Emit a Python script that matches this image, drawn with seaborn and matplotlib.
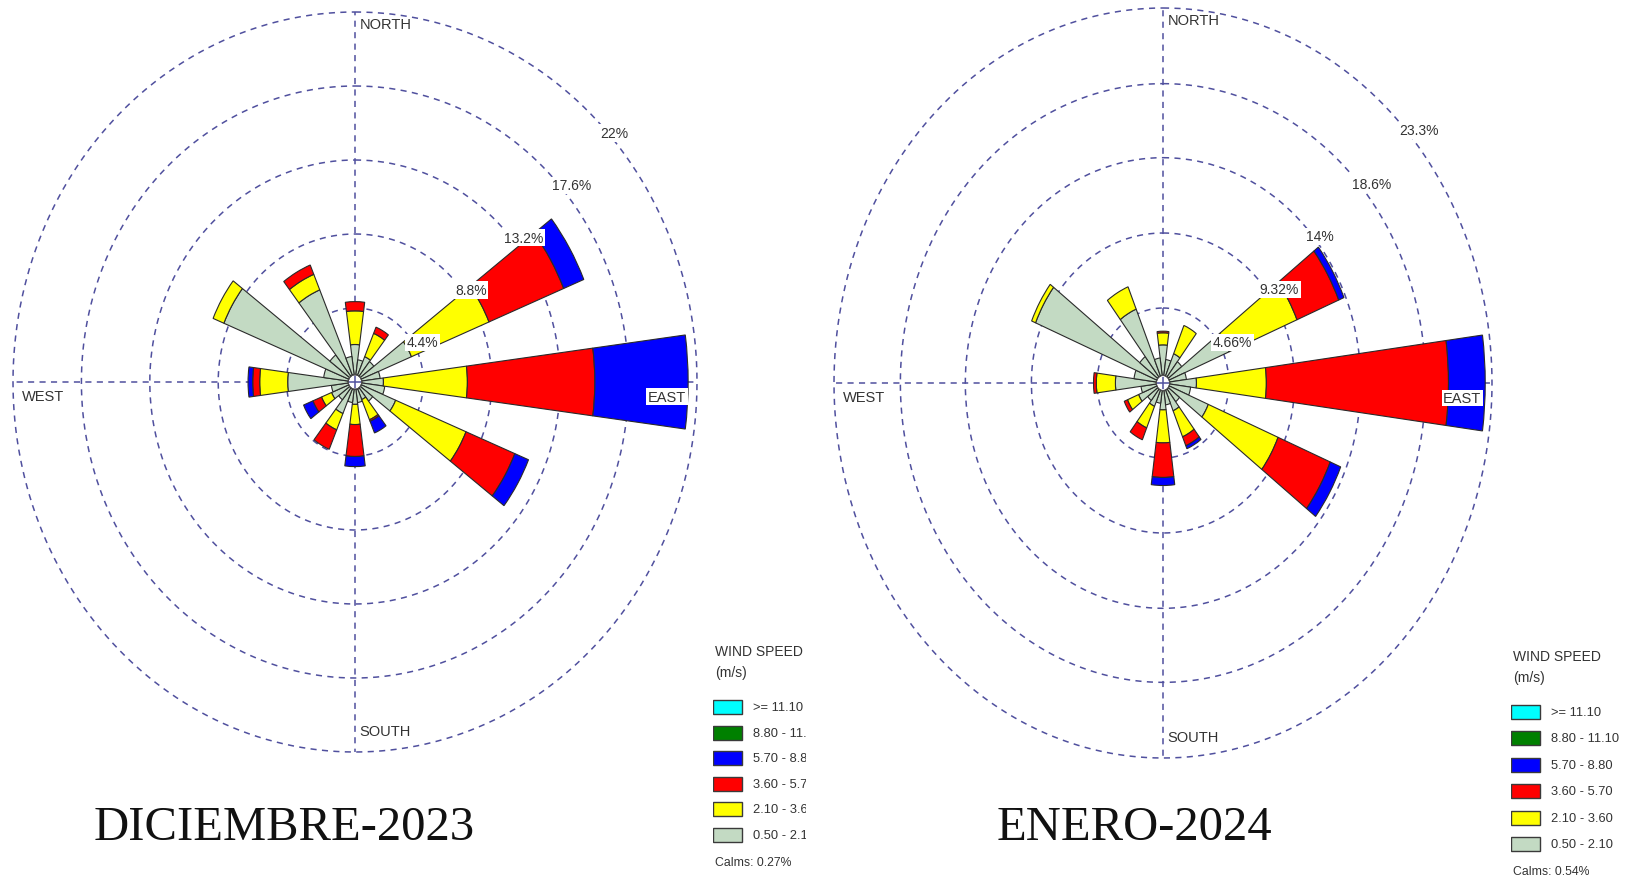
import numpy as np
import matplotlib
matplotlib.use("Agg")
import matplotlib.pyplot as plt
import seaborn as sns
from matplotlib.patches import Rectangle

sns.set_theme(style="white")
plt.rcParams["font.family"] = ["Liberation Sans", "DejaVu Sans"]

# Sector bearings, degrees clockwise from north
directions = list(range(0, 360, 15))

# Legend entries, fastest class first
speed_labels = [">= 11.10", "8.80 - 11.10", "5.70 - 8.80", "3.60 - 5.70", "2.10 - 3.60", "0.50 - 2.10"]
speed_colors = ["#00ffff", "#008000", "#0000ff", "#ff0000", "#ffff00", "#c3dac3"]

# December 2023 - frequency (%) per sector and speed class
dic_050_210 = [1.8, 0.9, 1.2, 1.1, 3.5, 1.2, 1.4, 1.5, 2.4, 1.0, 0.7, 0.8,
               0.9, 0.8, 1.6, 0.9, 1.2, 1.1, 3.9, 1.6, 8.7, 1.6, 5.5, 1.1]
dic_210_360 = [2.0, 0, 1.5, 0, 5.4, 0, 5.4, 0, 4.9, 0, 1.3, 0,
               1.2, 0, 1.05, 0, 0.7, 0, 1.8, 0, 0.75, 0, 1.0, 0]
dic_360_570 = [0.55, 0, 0.4, 0, 5.2, 0, 8.2, 0, 3.4, 0, 0.1, 0,
               1.9, 0, 1.25, 0, 0.6, 0, 0.45, 0, 0, 0, 0.6, 0]
dic_570_880 = [0, 0, 0, 0, 1.4, 0, 6.0, 0, 0.95, 0, 0.75, 0,
               0.6, 0, 0, 0, 0.65, 0, 0.3, 0, 0, 0, 0, 0]
dic_rings = [4.4, 8.8, 13.2, 17.6, 22]
dic_calms = 0.27

# January 2024
ene_050_210 = [1.9, 1.0, 1.5, 1.2, 4.6, 1.2, 1.9, 1.5, 3.0, 1.0, 1.4, 0.9,
               1.2, 0.8, 1.1, 0.9, 1.4, 1.1, 2.9, 1.6, 9.3, 1.6, 4.5, 1.1]
ene_210_360 = [0.75, 0, 1.9, 0, 5.2, 0, 4.95, 0, 5.35, 0, 1.75, 0,
               2.05, 0, 1.45, 0, 0.85, 0, 1.35, 0, 0.3, 0, 1.5, 0]
ene_360_570 = [0.1, 0, 0, 0, 3.2, 0, 12.9, 0, 4.0, 0, 0.6, 0,
               2.15, 0, 0.8, 0, 0.25, 0, 0.2, 0, 0, 0, 0, 0]
ene_570_880 = [0, 0, 0, 0, 0.4, 0, 2.6, 0, 0.8, 0, 0.2, 0,
               0.5, 0, 0, 0, 0, 0, 0, 0, 0, 0, 0, 0]
ene_rings = [4.66, 9.32, 14, 18.6, 23.3]
ene_calms = 0.54

GRID = "#50509e"
EDGE = "#2a2a2a"
W, H = 1625, 879
fig = plt.figure(figsize=(W / 100, H / 100), dpi=100)


def px_axes(x0, y0, x1, y1, **kw):
    return fig.add_axes([x0 / W, 1 - y1 / H, (x1 - x0) / W, (y1 - y0) / H], **kw)


def draw_rose(ax, classes, rings, hole):
    theta = np.deg2rad(directions)
    width = np.deg2rad(15)
    base = np.full(len(directions), hole)
    fills = speed_colors[::-1]
    for vals, col in zip(classes, fills):
        vals = np.asarray(vals, dtype=float)
        m = vals > 0
        ax.bar(theta[m], vals[m], width=width, bottom=base[m], color=col,
               edgecolor=EDGE, linewidth=0.8, align="center", zorder=3)
        base = base + vals
    rmax = rings[-1]
    t = np.linspace(0, 2 * np.pi, 721)
    for rv in rings:
        ax.plot(t, np.full_like(t, rv), color=GRID, lw=1.1, ls=(0, (4, 3.5)), zorder=2, clip_on=False)
    for a in (0, 90, 180, 270):
        ax.plot([np.deg2rad(a)] * 2, [0, rmax], color=GRID, lw=1.1, ls=(0, (4, 3.5)), zorder=2)
    ax.plot(t, np.full_like(t, hole), color="#555555", lw=0.6, zorder=4)
    ax.set_theta_zero_location("N")
    ax.set_theta_direction(-1)
    ax.set_ylim(0, rmax)
    ax.set_aspect("auto")
    ax.grid(False)
    ax.set_xticks([])
    ax.set_yticks([])
    ax.spines["polar"].set_visible(False)
    ax.set_facecolor("none")
    for rv in rings:
        ax.annotate(f"{rv:g}%", xy=(np.deg2rad(45), rv), xytext=(2.5, -9),
                    textcoords="offset points", ha="left", va="center",
                    fontsize=10, color="#333333", zorder=6,
                    bbox=dict(boxstyle="square,pad=0.12", fc="white", ec="none"))
    lab = dict(fontsize=10.5, color="#333333", transform=ax.transAxes, zorder=6)
    ax.text(0.507, 0.984, "NORTH", ha="left", va="center", **lab)
    ax.text(0.507, 0.028, "SOUTH", ha="left", va="center", **lab)
    ax.text(0.013, 0.481, "WEST", ha="left", va="center", **lab)
    ax.text(0.984, 0.480, "EAST", ha="right", va="center",
            bbox=dict(boxstyle="square,pad=0.1", fc="white", ec="none"), **lab)


def draw_legend(x0, y0, x1, y1, calms, first_box, step):
    lg = px_axes(x0, y0, x1, y1)
    lg.set_xlim(x0, x1)
    lg.set_ylim(y1, y0)
    lg.axis("off")
    lg.text(x0 + 2, first_box - 56, "WIND SPEED", fontsize=10, color="#333333", va="center", clip_on=True)
    lg.text(x0 + 2, first_box - 35, "(m/s)", fontsize=10, color="#333333", va="center", clip_on=True)
    for i, (lbl, col) in enumerate(zip(speed_labels, speed_colors)):
        yc = first_box + i * step
        lg.add_patch(Rectangle((x0, yc - 7), 29, 14, fc=col, ec="#3a3a3a", lw=1.0))
        lg.text(x0 + 40, yc, lbl, fontsize=9.3, color="#333333", va="center", clip_on=True)
    lg.text(x0 + 2, first_box + 6 * step + 1, f"Calms: {calms:.2f}%", fontsize=8.8,
            color="#333333", va="center", clip_on=True)


ax1 = px_axes(13, 13, 697, 753, projection="polar")
draw_rose(ax1, [dic_050_210, dic_210_360, dic_360_570, dic_570_880], dic_rings, 0.43)
ax2 = px_axes(834, 9, 1492, 759, projection="polar")
draw_rose(ax2, [ene_050_210, ene_210_360, ene_360_570, ene_570_880], ene_rings, 0.47)

draw_legend(713, 630, 806, 875, dic_calms, 708, 25.6)
draw_legend(1511, 635, 1625, 879, ene_calms, 713, 26.4)

fig.text(284 / W, 1 - 840 / H, "DICIEMBRE-2023", ha="center", va="baseline",
         fontsize=35, family="Liberation Serif", color="#111111")
fig.text(1134 / W, 1 - 840 / H, "ENERO-2024", ha="center", va="baseline",
         fontsize=35, family="Liberation Serif", color="#111111")

fig.savefig("out.png", dpi=100, facecolor="white")
